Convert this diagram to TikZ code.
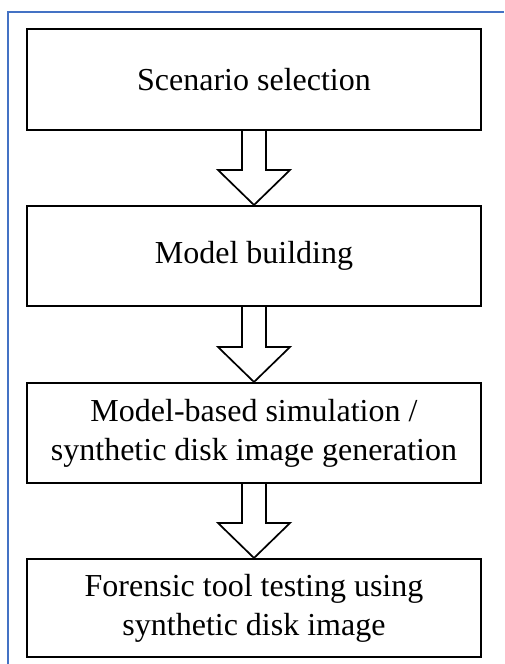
\documentclass[tikz,border=0pt]{standalone}
\usepackage{fontspec}
\setmainfont{Liberation Serif}
\usetikzlibrary{calc,backgrounds}

\tikzset{
  stepbox/.style={draw=black, line width=2pt, minimum width=454pt,
    align=center, inner sep=0pt,
    font=\fontsize{32}{39}\selectfont},
  boxshadow/.style={draw=black!35, line width=1.6pt},
  flowarrow/.style={draw=black, line width=1.7pt, fill=white, line join=miter},
  frameline/.style={draw=frameblue, line width=1.8pt}
}
\definecolor{frameblue}{RGB}{68,114,196}

% hollow block arrow from the bottom of one box to the top of the next
\newcommand\hollowarrow[2]{%
  \draw[flowarrow] let \p1=(#1.south), \p2=(#2.north) in
    (\x1-12pt,\y1) -- (\x1-12pt,\y2+35pt) -- (\x1-36pt,\y2+35pt)
    -- (\x2,\y2) -- (\x1+36pt,\y2+35pt) -- (\x1+12pt,\y2+35pt)
    -- (\x1+12pt,\y1);%
}

\begin{document}
\begin{tikzpicture}[x=1pt,y=-1pt]
  \useasboundingbox (0,0) rectangle (504,664);
  \fill[white] (0,0) rectangle (504,664);

  % open frame along the top and left edges
  \draw[frameline] (8,664) -- (8,12) -- (504,12);

  % process steps
  \node[stepbox, minimum height=101pt] (b1) at (254,79.5) {Scenario selection};
  \node[stepbox, minimum height=100pt] (b2) at (254,256) {Model building};
  \node[stepbox, minimum height=100pt] (b3) at (254,433)
    {Model-based simulation /\\synthetic disk image generation};
  \node[stepbox, minimum height=98pt] (b4) at (254,608)
    {Forensic tool testing using\\synthetic disk image};

  % soft grey edge offset behind each box
  \begin{scope}[on background layer]
    \foreach \b in {b1,b2,b3,b4}
      \draw[boxshadow] ([shift={(1.4,1.4)}]\b.north west)
        rectangle ([shift={(1.4,1.4)}]\b.south east);
  \end{scope}

  % block arrows between the steps
  \hollowarrow{b1}{b2}
  \hollowarrow{b2}{b3}
  \hollowarrow{b3}{b4}
\end{tikzpicture}
\end{document}
